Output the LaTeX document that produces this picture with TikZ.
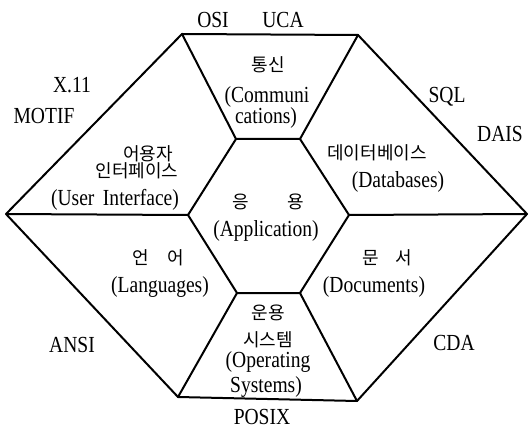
\documentclass[tikz,border=0pt]{standalone}
\usepackage{graphicx}
\usepackage{fontspec}
\setmainfont{Liberation Serif}
\newfontfamily\kr{Noto Sans CJK KR}
\newcommand\sx[1]{\scalebox{0.85}[1]{#1}}
\begin{document}
\begin{tikzpicture}[x=1pt,y=-1pt,
  edge/.style={line width=2pt,line join=round,line cap=round},
  lat/.style={font=\fontsize{23}{26}\selectfont,inner sep=0pt},
  kor/.style={font=\kr\fontsize{18}{20}\selectfont,inner sep=0pt}]
\useasboundingbox (0,0) rectangle (529,430);
% outer hexagon
\coordinate (oL) at (6,214);
\coordinate (oTL) at (182,34);
\coordinate (oTR) at (358,35);
\coordinate (oR) at (527,214);
\coordinate (oBR) at (357,401);
\coordinate (oBL) at (178,397);
% inner hexagon
\coordinate (iL) at (188,215);
\coordinate (iTL) at (236,139);
\coordinate (iTR) at (300,139);
\coordinate (iR) at (349,215);
\coordinate (iBR) at (300,293);
\coordinate (iBL) at (237,293);
\draw[edge] (oL) -- (oTL) -- (oTR) -- (oR) -- (oBR) -- (oBL) -- cycle;
\draw[edge] (iL) -- (iTL) -- (iTR) -- (iR) -- (iBR) -- (iBL) -- cycle;
\draw[edge] (iL) -- (oL);
\draw[edge] (iTL) -- (oTL);
\draw[edge] (iTR) -- (oTR);
\draw[edge] (iR) -- (oR);
\draw[edge] (iBR) -- (oBR);
\draw[edge] (iBL) -- (oBL);
% outside labels
\node[lat] (osi) at (213,20) {\sx{OSI}};
\node[lat] (uca) at (283,20) {\sx{UCA}};
\node[lat] (x11) at (72,85) {\sx{X.11}};
\node[lat] (motif) at (44,116) {\sx{MOTIF}};
\node[lat] (sql) at (447,97) {\sx{SQL}};
\node[lat] (dais) at (500,134) {\sx{DAIS}};
\node[lat] (ansi) at (72,345) {\sx{ANSI}};
\node[lat] (cda) at (454,343) {\sx{CDA}};
\node[lat] (posix) at (262,417) {\sx{POSIX}};
% communications
\node[kor] (com1) at (268,65) {통신};
\node[lat] (com2) at (267,97) {\sx{(Communi}};
\node[lat] (com3) at (266,118) {\sx{cations)}};
% user interface
\node[kor] (ui1) at (148,154) {어용자};
\node[kor] (ui2) at (137,171) {인터페이스};
\node[lat] (ui3) at (115,200) {\sx{(User\hspace{10pt}Interface)}};
% application
\node[kor] (app1) at (268.5,202) {응\hspace{39pt}용};
\node[lat] (app2) at (266,231) {\sx{(Application)}};
% databases
\node[kor] (db1) at (377,153) {데이터베이스};
\node[lat] (db2) at (398,182) {\sx{(Databases)}};
% languages
\node[kor] (lang1) at (158.5,258) {언\hspace{19pt}어};
\node[lat] (lang2) at (160,287) {\sx{(Languages)}};
% documents
\node[kor] (doc1) at (387.5,258) {문\hspace{17pt}서};
\node[lat] (doc2) at (374,287) {\sx{(Documents)}};
% operating systems
\node[kor] (os1) at (268,313) {운용};
\node[kor] (os2) at (268,340) {시스템};
\node[lat] (os3) at (268,362) {\sx{(Operating}};
\node[lat] (os4) at (266,387) {\sx{Systems)}};
\end{tikzpicture}
\end{document}
